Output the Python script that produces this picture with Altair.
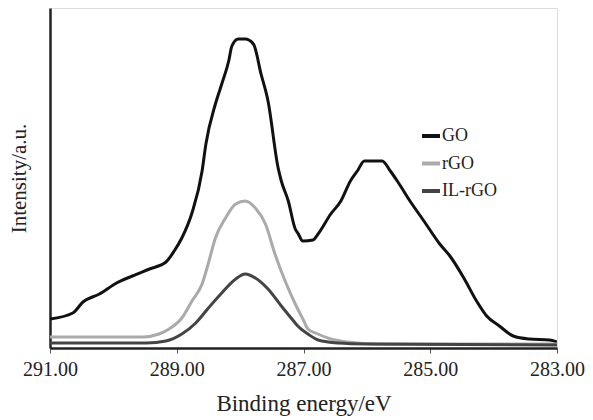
import altair as alt
import pandas as pd

go_ev = [291.00, 290.64, 290.48, 290.22, 289.95, 289.70, 289.43, 289.17, 289.04, 288.92,
         288.76, 288.60, 288.54, 288.39, 288.29, 288.18, 288.13, 288.03, 287.92, 287.79,
         287.67, 287.56, 287.40, 287.35, 287.24, 287.13, 287.09, 287.01, 286.85, 286.77,
         286.57, 286.41, 286.26, 286.15, 286.04, 285.76, 285.63, 285.52, 285.32, 285.10,
         284.85, 284.69, 284.47, 284.27, 284.11, 283.91, 283.69, 283.44, 283.12, 283.00]
go_int = [29, 35, 46, 54, 65, 72, 79, 86, 97, 110,
          135, 177, 204, 244, 264, 287, 302, 309, 309, 304,
          274, 247, 180, 167, 147, 119, 115, 107, 108, 114,
          134, 147, 167, 177, 187, 187, 177, 167, 147, 127,
          104, 92, 70, 47, 32, 22, 12, 9, 8, 6]

rgo_ev = [291.00, 289.54, 289.28, 289.12, 288.92, 288.76, 288.60, 288.50, 288.39, 288.23,
          288.07, 287.92, 287.76, 287.60, 287.45, 287.29, 287.13, 287.01, 286.93, 286.77,
          286.57, 286.30, 285.83, 283.00]
rgo_int = [11, 11, 14, 19, 30, 47, 64, 85, 110, 130,
           144, 147, 140, 124, 94, 67, 44, 29, 19, 14,
           9, 6, 4, 4]

il_ev = [291.00, 289.48, 289.17, 288.92, 288.70, 288.50, 288.29, 288.07, 287.92, 287.76,
         287.56, 287.35, 287.13, 287.09, 286.93, 286.77, 286.46, 285.99, 283.00]
il_int = [5, 5, 7, 14, 25, 40, 55, 69, 74, 70,
          59, 42, 25, 22, 14, 8, 5, 4, 3]

series = ["GO", "rGO", "IL-rGO"]
colors = ["#111111", "#aaaaaa", "#444444"]
x_ticks = [291, 289, 287, 285, 283]

rows = []
for name, xs, ys in [("GO", go_ev, go_int), ("rGO", rgo_ev, rgo_int), ("IL-rGO", il_ev, il_int)]:
    for i, (a, b) in enumerate(zip(xs, ys)):
        rows.append({"series": name, "ev": a, "intensity": b, "order": i})
df = pd.DataFrame(rows)

font = "'Liberation Serif', 'Times New Roman', Times, serif"

chart = alt.Chart(df).mark_line(strokeWidth=3, clip=True, interpolate="monotone").encode(
    x=alt.X("ev:Q",
            scale=alt.Scale(domain=[283, 291], reverse=True, nice=False, zero=False),
            axis=alt.Axis(values=x_ticks, format=".2f", title="Binding energy/eV",
                          grid=False, tickSize=5, tickColor="#555555", domainColor="#222222",
                          domainWidth=2.5, labelFontSize=20, titleFontSize=23,
                          labelFont=font, titleFont=font, labelColor="#222222",
                          titleColor="#222222", labelPadding=6, titlePadding=13,
                          titleFontWeight="normal", labelFlush=False)),
    y=alt.Y("intensity:Q",
            scale=alt.Scale(domain=[0, 340], nice=False),
            axis=alt.Axis(labels=False, ticks=False, grid=False, title="Intensity/a.u.",
                          domainColor="#222222", domainWidth=2.5, titleFontSize=21,
                          titleFont=font, titleColor="#222222", titlePadding=21,
                          titleFontWeight="normal")),
    color=alt.Color("series:N",
                    scale=alt.Scale(domain=series, range=colors),
                    sort=series,
                    legend=alt.Legend(title=None, orient="none", legendX=370, legendY=117,
                                      symbolType="stroke", symbolSize=324, symbolStrokeWidth=4,
                                      labelFontSize=18, labelFont=font, labelColor="#222222",
                                      labelOffset=0, rowPadding=7.5, padding=0)),
    order="order:Q",
).properties(
    width=507, height=340,
    autosize=alt.AutoSizeParams(type="none"),
    padding={"left": 42, "top": 0, "right": 28, "bottom": 72},
).configure_view(
    stroke="#888888", strokeWidth=1
).configure(background="white", font=font)

chart.save("out.html", embed_options={"renderer": "svg", "actions": False})
